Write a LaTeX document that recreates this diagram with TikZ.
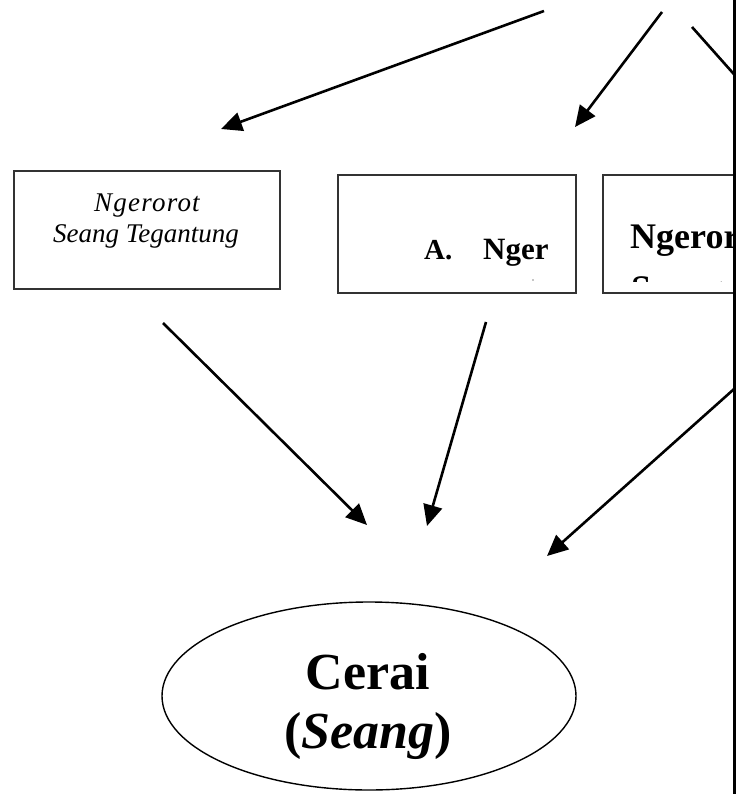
\documentclass[tikz,border=0pt]{standalone}
\usepackage{fontspec}
\setmainfont{Liberation Serif}
\usetikzlibrary{arrows.meta,shapes.geometric}
\begin{document}
\begin{tikzpicture}[x=1pt,y=-1pt,
  box/.style={draw=black!80, line width=2pt, minimum width=#1, minimum height=118pt, inner sep=0pt},
  box/.default=238pt,
  flow/.style={line width=2.6pt, -{Triangle[length=21pt,width=19pt]}},
  lbl/.style={inner sep=0pt, anchor=base},
]
\useasboundingbox (0,0) rectangle (743,794);

\begin{scope}
  \clip (0,0) rectangle (733,794);

  % the three cases
  \node[box=266pt] (b1) at (147,230) {};
  \node[box] (b2) at (457,234) {};
  \node[box] (b3) at (722,234) {};

  \node[lbl] (t1a) at (147,212)
    {\fontsize{27}{30}\selectfont\itshape\addfontfeatures{LetterSpace=4.5}Ngerorot};
  \node[lbl] (t1b) at (146,242) {\fontsize{27}{30}\selectfont\itshape Seang Tegantung};

  \node[lbl, anchor=base west] (t2a) at (424,259)
    {\fontsize{29}{32}\selectfont\bfseries A.};
  \node[lbl, anchor=base west] (t2b) at (483,259)
    {\fontsize{31}{34}\selectfont\bfseries Nger};
  \fill[black!45] (533,280) circle (0.9);

  \node[lbl, anchor=base west] (t3) at (630,248)
    {\fontsize{36}{40}\selectfont\bfseries Ngerorot};
  \begin{scope}
    \clip (605,177) rectangle (733,281);
    \node[lbl, anchor=base west] (t3b) at (631,300)
      {\fontsize{36}{40}\selectfont\bfseries Seang};
  \end{scope}

  % result
  \node[draw, ellipse, line width=1.4pt, minimum width=414pt, minimum height=188pt] (cerai) at (369,696) {};
  \node[lbl] (c1) at (368,689) {\fontsize{52}{60}\selectfont\bfseries Cerai};
  \node[lbl] (c2) at (368,748) {\fontsize{52}{60}\selectfont\bfseries (\textit{Seang})};

  % arrow end points
  \coordinate (s1) at (544,11);   \coordinate (e1) at (221,129);
  \coordinate (s2) at (662,12);   \coordinate (e2) at (575,127);
  \coordinate (s3) at (692,27);   \coordinate (e3) at (772,117);
  \coordinate (s4) at (163,323);  \coordinate (e4) at (367,525);
  \coordinate (s5) at (486,322);  \coordinate (e5) at (427,526);
  \coordinate (s6) at (780,348);  \coordinate (e6) at (547,556);

  \draw[flow] (s1) -- (e1);
  \draw[flow] (s2) -- (e2);
  \draw[flow] (s3) -- (e3);
  \draw[flow] (s4) -- (e4);
  \draw[flow] (s5) -- (e5);
  \draw[flow] (s6) -- (e6);
\end{scope}

% page edge rule
\fill (733,0) rectangle (736,794);
\end{tikzpicture}
\end{document}
